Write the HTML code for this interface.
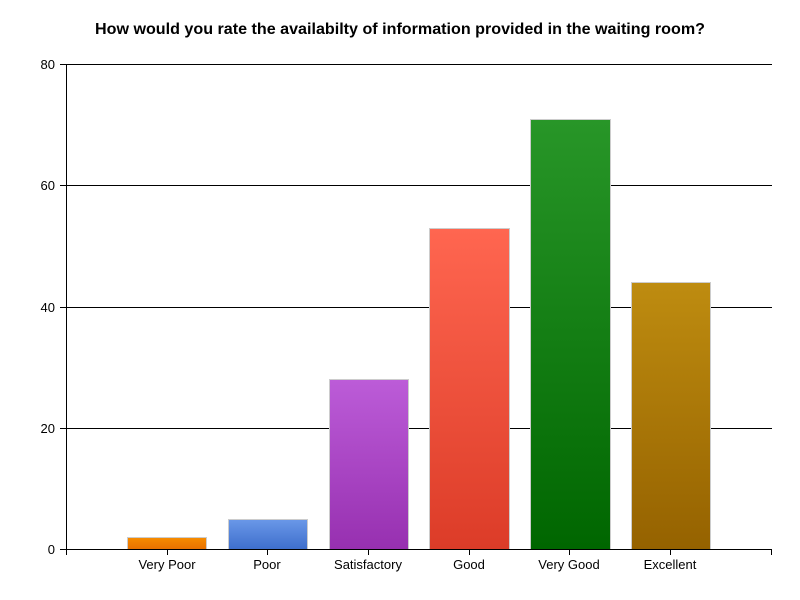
<!DOCTYPE html>
<html><head><meta charset="utf-8"><style>body{margin:0;background:#fff}svg{display:block;font-family:"Liberation Sans",sans-serif}</style></head><body>
<svg width="800" height="600" viewBox="0 0 800 600">
<defs>
<linearGradient id="g0" x1="0" y1="0" x2="0" y2="1"><stop offset="0" stop-color="#f78c00"/><stop offset="1" stop-color="#e87000"/></linearGradient>
<linearGradient id="g1" x1="0" y1="0" x2="0" y2="1"><stop offset="0" stop-color="#6a98e8"/><stop offset="1" stop-color="#3e6ecc"/></linearGradient>
<linearGradient id="g2" x1="0" y1="0" x2="0" y2="1"><stop offset="0" stop-color="#bc5cd8"/><stop offset="1" stop-color="#9730b0"/></linearGradient>
<linearGradient id="g3" x1="0" y1="0" x2="0" y2="1"><stop offset="0" stop-color="#ff6650"/><stop offset="1" stop-color="#dc3c28"/></linearGradient>
<linearGradient id="g4" x1="0" y1="0" x2="0" y2="1"><stop offset="0" stop-color="#289628"/><stop offset="1" stop-color="#006600"/></linearGradient>
<linearGradient id="g5" x1="0" y1="0" x2="0" y2="1"><stop offset="0" stop-color="#be8c10"/><stop offset="1" stop-color="#956200"/></linearGradient>
</defs>
<text x="400" y="34" text-anchor="middle" font-size="16" font-weight="bold" textLength="610" lengthAdjust="spacingAndGlyphs">How would you rate the availabilty of information provided in the waiting room?</text>
<g stroke="#000" stroke-width="1">
<line x1="60" y1="64.5" x2="772" y2="64.5"/>
<line x1="60" y1="185.5" x2="772" y2="185.5"/>
<line x1="60" y1="307.5" x2="772" y2="307.5"/>
<line x1="60" y1="428.5" x2="772" y2="428.5"/>
</g>
<g stroke="#ccc" stroke-width="1">
<rect x="127.5" y="537.5" width="79" height="12" fill="url(#g0)"/>
<rect x="228.5" y="519.5" width="79" height="30" fill="url(#g1)"/>
<rect x="329.5" y="379.5" width="79" height="170" fill="url(#g2)"/>
<rect x="429.5" y="228.5" width="80" height="321" fill="url(#g3)"/>
<rect x="530.5" y="119.5" width="80" height="430" fill="url(#g4)"/>
<rect x="631.5" y="282.5" width="79" height="267" fill="url(#g5)"/>
</g>
<g stroke="#000" stroke-width="1">
<line x1="66.5" y1="64" x2="66.5" y2="555"/>
<line x1="60" y1="549.5" x2="772" y2="549.5"/>
<line x1="771.5" y1="549" x2="771.5" y2="555"/>
<line x1="167.5" y1="549" x2="167.5" y2="555"/>
<line x1="267.5" y1="549" x2="267.5" y2="555"/>
<line x1="368.5" y1="549" x2="368.5" y2="555"/>
<line x1="469.5" y1="549" x2="469.5" y2="555"/>
<line x1="569.5" y1="549" x2="569.5" y2="555"/>
<line x1="670.5" y1="549" x2="670.5" y2="555"/>
</g>
<g font-size="13" text-anchor="end">
<text x="55" y="69">80</text><text x="55" y="190">60</text><text x="55" y="312">40</text><text x="55" y="433">20</text><text x="55" y="554">0</text>
</g>
<g font-size="13" text-anchor="middle">
<text x="167" y="569">Very Poor</text><text x="267" y="569">Poor</text><text x="368" y="569">Satisfactory</text><text x="469" y="569">Good</text><text x="569" y="569">Very Good</text><text x="670" y="569">Excellent</text>
</g>
</svg>
</body></html>
